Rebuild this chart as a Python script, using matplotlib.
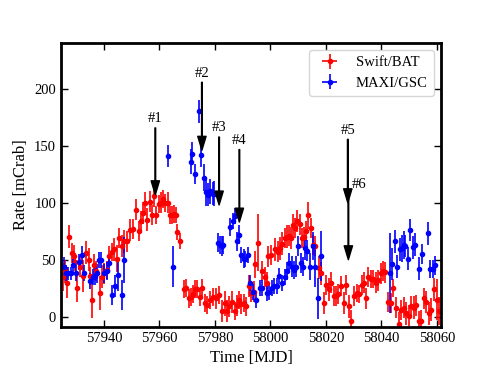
import numpy as np
import matplotlib
matplotlib.use('Agg')
import matplotlib.pyplot as plt

plt.rcParams['font.family'] = ['Liberation Serif', 'DejaVu Serif']

## Swift/BAT light curve =====================================================
bat_mjd = [57925.1, 57925.8, 57926.6, 57927.5, 57928.5, 57929.2, 57929.4, 57930.4,
	57931.4, 57932.3, 57933.5, 57934.5, 57935.0, 57935.6, 57936.5, 57937.1,
	57938.6, 57939.2, 57940.0, 57941.0, 57941.9, 57942.9, 57943.6, 57944.6,
	57945.5, 57946.5, 57947.2, 57948.2, 57949.4, 57950.3, 57951.5, 57952.5,
	57953.3, 57954.2, 57954.9, 57955.5, 57956.6, 57957.3, 57958.1, 57958.7,
	57959.7, 57960.5, 57961.4, 57962.1, 57962.9, 57963.8, 57964.5, 57965.3,
	57966.0, 57966.5, 57967.4, 57968.9, 57969.5, 57970.5, 57971.3, 57972.1,
	57972.9, 57973.7, 57974.6, 57975.5, 57976.4, 57977.3, 57978.2, 57979.2,
	57980.4, 57981.3, 57982.5, 57983.5, 57984.3, 57985.2, 57986.1, 57987.1,
	57987.9, 57988.8, 57989.5, 57990.3, 57991.2, 57992.4, 57993.1, 57994.0,
	57994.5, 57995.5, 57996.9, 57997.9, 57998.7, 57999.3, 58000.3, 58001.7,
	58002.7, 58003.5, 58004.1, 58005.1, 58005.9, 58006.6, 58007.5, 58008.1,
	58008.9, 58009.7, 58010.5, 58011.4, 58012.1, 58012.9, 58013.5, 58014.5,
	58015.3, 58016.2, 58017.4, 58018.3, 58019.3, 58020.1, 58021.0, 58021.9,
	58022.9, 58023.7, 58024.5, 58025.5, 58026.5, 58027.3, 58028.2, 58029.1,
	58030.3, 58031.3, 58032.1, 58033.0, 58033.9, 58034.3, 58035.1, 58036.1,
	58037.0, 58037.9, 58038.7, 58039.7, 58040.6, 58041.4, 58042.3, 58043.3,
	58044.3, 58045.3, 58046.3, 58047.1, 58048.0, 58048.9, 58049.9, 58050.7,
	58051.7, 58052.6, 58053.5, 58054.3, 58055.3, 58056.2, 58057.1, 58058.0,
	58058.9, 58059.9, 58060.6]
bat_rate = [35, 40, 30, 70, 56, 53, 48, 25,
	44, 36, 56, 50, 36, 15, 45, 40,
	21, 35, 38, 41, 53, 57, 59, 51,
	69, 62, 66, 66, 76, 77, 94, 75,
	84, 91, 100, 85, 101, 89, 106, 89,
	99, 100, 103, 100, 100, 89, 89, 90,
	89, 74, 66, 24, 25, 16, 17, 20,
	24, 24, 17, 25, 12, 10, 15, 17,
	16, 19, 5, 12, 5, 9, 13, 5,
	10, 15, 11, 12, 9, 27, 21, 22,
	46, 65, 40, 35, 30, 53, 54, 59,
	57, 60, 64, 69, 70, 71, 69, 80,
	78, 84, 81, 69, 70, 75, 89, 78,
	63, 62, 43, 38, 12, 28, 24, 30,
	18, 18, 20, 27, 12, 28, 9, -4,
	18, 21, 20, 28, 30, 16, 35, 33,
	33, 30, 32, 38, 40, 39, 13, 12,
	25, 8, -6, 6, 8, 3, 1, 9,
	8, 10, -4, -4, 16, 13, 3, 6,
	24, 15, 5]
bat_err = [12, 10, 14, 10, 9, 10, 8, 12,
	9, 14, 10, 10, 8, 16, 10, 9,
	15, 10, 9, 8, 9, 8, 10, 12,
	9, 10, 10, 9, 10, 9, 9, 9,
	9, 10, 9, 10, 9, 9, 10, 8,
	8, 9, 8, 8, 9, 8, 8, 8,
	7, 7, 7, 8, 8, 8, 8, 8,
	8, 8, 8, 8, 8, 8, 8, 8,
	9, 8, 10, 11, 10, 9, 10, 8,
	9, 8, 9, 8, 8, 10, 8, 9,
	12, 25, 9, 9, 9, 9, 9, 10,
	9, 10, 10, 9, 10, 9, 10, 10,
	9, 10, 9, 9, 9, 9, 12, 9,
	9, 9, 10, 10, 10, 9, 10, 9,
	9, 9, 9, 9, 10, 9, 10, 10,
	9, 8, 8, 9, 9, 9, 9, 8,
	8, 9, 9, 9, 9, 9, 9, 9,
	8, 9, 10, 9, 9, 10, 9, 9,
	10, 9, 9, 10, 9, 10, 10, 10,
	10, 18, 12]

## MAXI/GSC light curve ======================================================
gsc_mjd = [57925.6, 57926.3, 57927.1, 57928.0, 57928.9, 57929.9, 57931.1, 57932.0,
	57932.8, 57935.0, 57935.9, 57936.8, 57937.5, 57938.3, 57939.0, 57940.1,
	57941.0, 57941.9, 57942.8, 57944.0, 57945.2, 57946.4, 57947.2,
	57962.9, 57965.0, 57971.3, 57971.9, 57972.9, 57974.1, 57975.1, 57975.9,
	57976.8, 57977.4, 57978.2, 57979.2, 57979.8, 57981.1, 57981.7, 57982.5,
	57983.0, 57985.5, 57986.4, 57987.1, 57987.9, 57988.5, 57989.5, 57990.3,
	57991.0, 57991.9, 57992.7, 57993.6, 57994.8, 57996.3, 57997.0, 57998.7,
	57999.4, 58000.5, 58001.4, 58002.3, 58003.2, 58004.1, 58005.1, 58005.9,
	58006.8, 58007.7, 58008.4, 58009.2, 58009.9, 58010.9, 58011.6, 58012.5,
	58013.2, 58014.1, 58015.3, 58016.2, 58017.1, 58018.1,
	58043.1, 58043.9, 58044.8, 58045.7, 58046.7, 58047.5, 58048.1, 58048.7,
	58049.5, 58050.5, 58051.4, 58052.3, 58053.5, 58054.7, 58056.8, 58057.7,
	58058.5, 58059.5]
gsc_rate = [44, 38, 38, 38, 45, 38, 48, 54,
	38, 31, 35, 36, 38, 50, 50, 38,
	40, 47, 19, 27, 37, 19, 50,
	141, 44, 136, 143, 125, 180, 142, 122,
	109, 107, 110, 108, 108, 65, 63, 62,
	63, 79, 84, 88, 66, 72, 54, 51,
	51, 54, 30, 22, 15, 25, 25, 21,
	22, 25, 27, 27, 36, 30, 35, 40,
	47, 44, 41, 44, 62, 47, 44, 60,
	58, 44, 62, 44, 16, 53,
	38, 46, 66, 44, 59, 60, 63, 62,
	51, 76, 61, 63, 42, 55, 73, 42,
	42, 45]
gsc_err = [8, 7, 6, 6, 6, 7, 7, 8,
	7, 7, 7, 8, 8, 7, 7, 8,
	8, 8, 9, 10, 14, 13, 20,
	10, 18, 11, 10, 9, 10, 11, 12,
	12, 10, 11, 10, 11, 8, 8, 9,
	8, 8, 7, 7, 8, 8, 7, 8,
	7, 7, 7, 7, 7, 7, 7, 7,
	7, 7, 7, 7, 7, 7, 7, 8,
	9, 9, 8, 9, 9, 9, 8, 10,
	9, 12, 12, 18, 18, 22,
	35, 14, 10, 10, 10, 12, 12, 10,
	10, 10, 10, 10, 10, 9, 10, 8,
	8, 8]

## flare markers ==============================================================
arrow_labels = ['#1', '#2', '#3', '#4', '#5', '#6']
arrow_mjd = [57958.5, 57975.3, 57981.5, 57988.8, 58027.9, 58028.1]
arrow_tip = [107, 146, 98, 83, 100, 50]
arrow_top = [168, 208, 160, 149, 158, 110]

fig = plt.figure(figsize=(4.9, 3.68), dpi=100)
ax = fig.add_axes([0.1245, 0.1114, 0.7755, 0.7717])

ax.errorbar(bat_mjd, bat_rate, yerr=bat_err, xerr=0.4, fmt='o', color='r',
	ms=3, elinewidth=1.2, capsize=0, label='Swift/BAT')
ax.errorbar(gsc_mjd, gsc_rate, yerr=gsc_err, xerr=0.4, fmt='o', color='b',
	ms=3, elinewidth=1.2, capsize=0, label='MAXI/GSC')

aprops = dict(facecolor='black', edgecolor='black', width=0.5, headwidth=6,
	headlength=10, shrink=0.0)
for lab, x, tip, top in zip(arrow_labels, arrow_mjd, arrow_tip, arrow_top):
	if lab == '#6':
		ax.annotate('', xy=(x, tip), xytext=(x, top), arrowprops=aprops)
		ax.text(x + 1.2, top + 6, lab, fontsize=10.5, ha='left', va='center')
	else:
		ax.annotate(lab, xy=(x, tip), xytext=(x, top), ha='center',
			va='bottom', fontsize=10.5, arrowprops=aprops)

ax.set_xlim(57924.5, 58061.5)
ax.set_ylim(-9, 240)
ax.set_xticks(np.arange(57940, 58061, 20))
ax.set_yticks([0, 50, 100, 150, 200])
ax.tick_params(direction='in', top=True, right=True, length=5, width=1,
	labelsize=10.5)
for sp in ax.spines.values():
	sp.set_linewidth(2)

ax.set_xlabel('Time [MJD]', fontsize=12)
ax.set_ylabel('Rate [mCrab]', fontsize=12)
ax.legend(loc='upper right', fontsize=10.5, numpoints=1)

plt.savefig('out.png', dpi=100)
